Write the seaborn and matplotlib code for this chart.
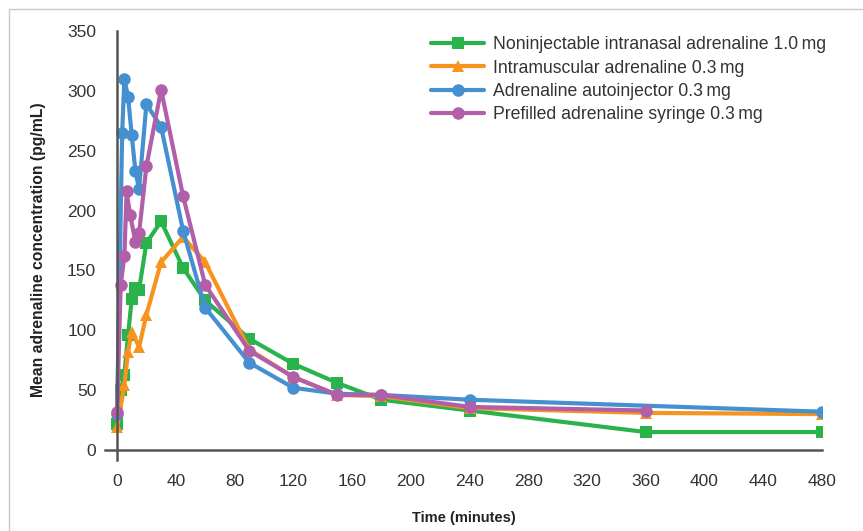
import matplotlib
matplotlib.use("Agg")
import matplotlib.pyplot as plt
import seaborn as sns
import pandas as pd
from matplotlib.patches import Rectangle

# data (time in minutes, concentration in pg/mL)
t_nasal = [0, 2.5, 5, 7.5, 10, 12.5, 15, 20, 30, 45, 60, 90, 120, 150, 180, 240, 360, 480]
v_nasal = [22, 50, 63, 96, 126, 135, 134, 173, 191, 152, 125, 93, 72, 56, 42, 33, 15, 15]

t_im = [0, 5, 7.5, 10, 15, 20, 30, 45, 60, 90, 120, 150, 180, 240, 360, 480]
v_im = [19, 54, 82, 99, 86, 113, 157, 178, 157, 84, 61, 46, 45, 35, 31, 30]

t_auto = [0, 3.5, 5, 7.5, 10, 12.5, 15, 20, 30, 45, 60, 90, 120, 150, 180, 240, 480]
v_auto = [30, 265, 310, 295, 263, 233, 218, 289, 270, 183, 119, 73, 52, 47, 46, 42, 32]

t_syr = [0, 2.5, 5, 6.5, 9, 12.5, 15, 20, 30, 45, 60, 90, 120, 150, 180, 240, 360]
v_syr = [32, 138, 162, 216, 196, 174, 181, 237, 301, 212, 138, 83, 61, 46, 46, 36, 33]

labels = ["Noninjectable intranasal adrenaline 1.0\u2009mg",
          "Intramuscular adrenaline 0.3\u2009mg",
          "Adrenaline autoinjector 0.3\u2009mg",
          "Prefilled adrenaline syringe 0.3\u2009mg"]
colors = ["#2bb34b", "#f7941d", "#4490d0", "#b05fa8"]
markers = ["s", "^", "o", "o"]

sns.set_style("white")
plt.rcParams["font.family"] = ["Liberation Sans", "DejaVu Sans"]

fig = plt.figure(figsize=(8.63, 5.31), dpi=100)
ax = fig.add_axes([0.122, 0.1345, 0.8305, 0.807])
fig.patches.append(Rectangle((0.0105, -0.01), 1.0, 0.993, transform=fig.transFigure,
                             fill=False, edgecolor="#c8c8c8", linewidth=1.0))

series = [(t_nasal, v_nasal), (t_im, v_im), (t_auto, v_auto), (t_syr, v_syr)]
for (t, v), lab, c, m in zip(series, labels, colors, markers):
    df = pd.DataFrame({"time": t, "conc": v})
    sns.lineplot(data=df, x="time", y="conc", ax=ax, color=c, marker=m, label=lab,
                 linewidth=3, markersize=9, markeredgewidth=0, sort=False)

ax.set_xlim(-8, 480)
ax.set_ylim(-8, 350)
ax.set_xticks(range(0, 481, 40))
ax.set_yticks(range(0, 351, 50))
ax.spines["left"].set_position(("data", 0))
ax.spines["bottom"].set_position(("data", 0))
ax.spines["top"].set_visible(False)
ax.spines["right"].set_visible(False)
for s in ["left", "bottom"]:
    ax.spines[s].set_color("#555555")
    ax.spines[s].set_linewidth(1.8)
ax.tick_params(axis="both", direction="out", length=9, width=1.5, color="#555555",
               labelsize=12.5, labelcolor="#333333")
ax.tick_params(axis="y", pad=6)
ax.tick_params(axis="x", pad=8)

ax.set_xlabel("Time (minutes)", fontsize=10.5, fontweight="bold", labelpad=16, color="#222222")
ax.set_ylabel("Mean adrenaline concentration (pg/mL)", fontsize=11.3, fontweight="bold",
              color="#222222")
ax.yaxis.set_label_coords(-0.083, 0.49)

leg = ax.legend(loc="upper right", bbox_to_anchor=(1.028, 1.025), frameon=False, fontsize=12.7,
                handlelength=3.0, labelspacing=0.36, handletextpad=0.5)
for txt in leg.get_texts():
    txt.set_color("#333333")

fig.savefig("out.png", dpi=100)
